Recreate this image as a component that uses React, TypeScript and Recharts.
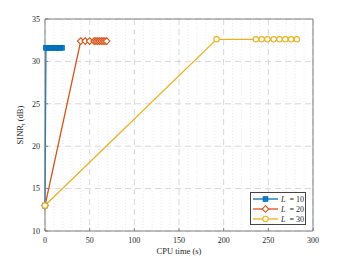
import {
  LineChart,
  Line,
  XAxis,
  YAxis,
  CartesianGrid,
  ReferenceLine,
  Legend,
} from "recharts";

// CPU time (s) and SINR_t (dB) per number of iterations L
const L10_TIME = [0, 1, 3, 5, 7, 9, 11, 13, 15, 17, 19];
const L10_SINR = [13, 31.6, 31.6, 31.6, 31.6, 31.6, 31.6, 31.6, 31.6, 31.6, 31.6];

const L20_TIME = [0, 40, 45, 50, 55, 57, 59, 61, 63, 65, 67, 69];
const L20_SINR = [13, 32.4, 32.4, 32.4, 32.4, 32.4, 32.4, 32.4, 32.4, 32.4, 32.4, 32.4];

const L30_TIME = [0, 192, 236, 242.5, 249, 256, 262.5, 269, 275.5, 282];
const L30_SINR = [13, 32.6, 32.6, 32.6, 32.6, 32.6, 32.6, 32.6, 32.6, 32.6];

const X_TICKS = [0, 50, 100, 150, 200, 250, 300];
const Y_TICKS = [10, 15, 20, 25, 30, 35];
const X_MINOR = [10, 20, 30, 40, 60, 70, 80, 90, 110, 120, 130, 140, 160, 170, 180, 190, 210, 220, 230, 240, 260, 270, 280, 290];

const BLUE = "#0072BD";
const ORANGE = "#D95319";
const YELLOW = "#EDB120";
const FONT = "'Liberation Serif', 'Times New Roman', serif";

const zip = (xs: number[], ys: number[]) => xs.map((x, i) => ({ t: x, v: ys[i] }));

const SERIES = [
  { name: "10", color: BLUE, marker: "square", data: zip(L10_TIME, L10_SINR) },
  { name: "20", color: ORANGE, marker: "diamond", data: zip(L20_TIME, L20_SINR) },
  { name: "30", color: YELLOW, marker: "circle", data: zip(L30_TIME, L30_SINR) },
];

function Marker({ kind, cx, cy, color }: { kind: string; cx: number; cy: number; color: string }) {
  if (kind === "square") {
    return <rect x={cx - 2.3} y={cy - 2.3} width={4.6} height={4.6} fill={color} fillOpacity={0.85} stroke={color} strokeWidth={1} />;
  }
  if (kind === "diamond") {
    return (
      <path
        d={`M${cx},${cy - 3.3} L${cx + 3.3},${cy} L${cx},${cy + 3.3} L${cx - 3.3},${cy} Z`}
        fill="#fff"
        stroke={color}
        strokeWidth={1.1}
      />
    );
  }
  return <circle cx={cx} cy={cy} r={2.7} fill="#fff" stroke={color} strokeWidth={1.1} />;
}

function renderDot(kind: string, color: string) {
  return (props: any) => {
    const { cx, cy, index } = props;
    if (cx == null || cy == null) return <g key={`d-${index}`} />;
    return (
      <g key={`${kind}-${index}`}>
        <Marker kind={kind} cx={cx} cy={cy} color={color} />
      </g>
    );
  };
}

function LegendBox() {
  return (
    <div
      style={{
        width: 54,
        height: 31,
        border: "1px solid #444",
        background: "#fff",
        fontFamily: FONT,
        fontSize: 8,
        color: "#262626",
      }}
    >
      <svg width={54} height={31}>
        {SERIES.map((s, i) => {
          const y = 6 + i * 10;
          return (
            <g key={s.name}>
              <line x1={2} x2={27} y1={y} y2={y} stroke={s.color} strokeWidth={1.3} />
              <Marker kind={s.marker} cx={14.5} cy={y} color={s.color} />
              <text x={30} y={y + 3} fontFamily={FONT} fontSize={8} fill="#262626">
                <tspan fontStyle="italic">L</tspan>
                <tspan dx={4}>= {s.name}</tspan>
              </text>
            </g>
          );
        })}
      </svg>
    </div>
  );
}

const YLabel = () => (
  <text
    x={23}
    y={125}
    transform="rotate(-90, 23, 125)"
    textAnchor="middle"
    fontFamily={FONT}
    fontSize={8.5}
    fill="#262626"
  >
    SINR
    <tspan dy={2} fontSize={6}>t</tspan>
    <tspan dy={-2}> (dB)</tspan>
  </text>
);

export default function App() {
  return (
    <div style={{ position: "absolute", left: 0, top: 0, width: 346, height: 260, background: "#fff" }}>
      <LineChart width={346} height={260} margin={{ top: 19, right: 33, bottom: 0, left: 0 }}>
        <CartesianGrid stroke="#d8d8d8" strokeDasharray="6 4" />
        {X_MINOR.map((x) => (
          <ReferenceLine key={x} x={x} stroke="#e4e4e4" strokeDasharray="1 2" strokeWidth={0.8} />
        ))}
        <ReferenceLine y={35} stroke="#808080" strokeWidth={1} />
        <ReferenceLine x={300} stroke="#808080" strokeWidth={1} />
        <XAxis
          dataKey="t"
          type="number"
          domain={[0, 300]}
          ticks={X_TICKS}
          height={29}
          allowDuplicatedCategory={false}
          axisLine={{ stroke: "#808080" }}
          tickLine={{ stroke: "#808080" }}
          tickSize={-3}
          tickMargin={9}
          tick={{ fontFamily: FONT, fontSize: 8, fill: "#262626" }}
          label={{
            value: "CPU time (s)",
            position: "insideBottom",
            offset: 6,
            fontFamily: FONT,
            fontSize: 8.5,
            fill: "#262626",
          }}
        />
        <YAxis
          type="number"
          domain={[10, 35]}
          ticks={Y_TICKS}
          width={45}
          axisLine={{ stroke: "#808080" }}
          tickLine={{ stroke: "#808080" }}
          tickSize={-3}
          tickMargin={8}
          tick={{ fontFamily: FONT, fontSize: 8, fill: "#262626" }}
          label={{ content: () => <YLabel /> }}
        />
        {SERIES.map((s) => (
          <Line
            key={s.name}
            data={s.data}
            dataKey="v"
            name={`L = ${s.name}`}
            type="linear"
            stroke={s.color}
            strokeWidth={1.3}
            dot={renderDot(s.marker, s.color)}
            activeDot={false}
            isAnimationActive={false}
          />
        ))}
        <Legend
          layout="vertical"
          align="center"
          verticalAlign="middle"
          content={() => <LegendBox />}
          wrapperStyle={{ position: "absolute", left: 250, top: 192, width: 56, height: 33 }}
        />
      </LineChart>
    </div>
  );
}
